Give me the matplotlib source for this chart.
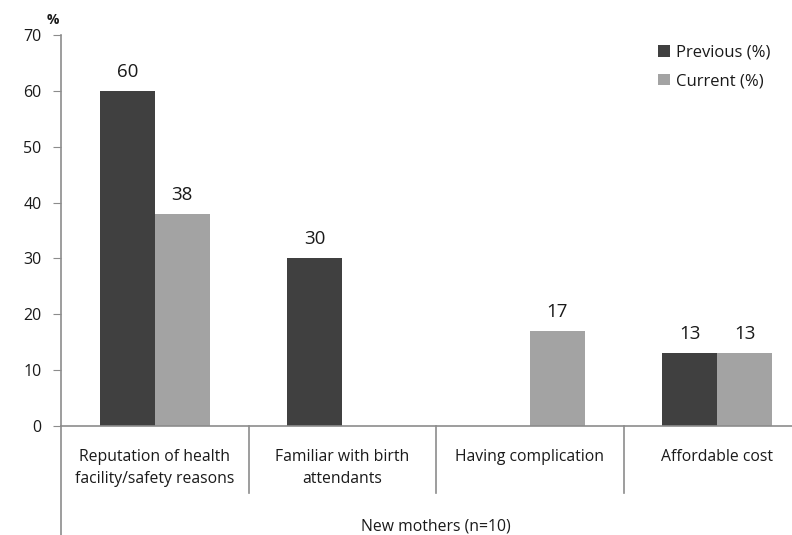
import numpy as np
import matplotlib
matplotlib.use("Agg")
import matplotlib.pyplot as plt
from matplotlib.patches import Patch
from matplotlib.lines import Line2D

plt.rcParams['font.family'] = ['Open Sans', 'DejaVu Sans']

categories = ["Reputation of health\nfacility/safety reasons",
              "Familiar with birth\nattendants",
              "Having complication",
              "Affordable cost"]
group_label = "New mothers (n=10)"
previous = [60, 30, None, 13]
current = [38, None, 17, 13]
series_names = ["Previous (%)", "Current (%)"]
y_ticks = [0, 10, 20, 30, 40, 50, 60, 70]

dark = "#404040"
light = "#a3a3a3"
axis_grey = "#8c8c8c"
text_col = "#1a1a1a"

W, H = 792, 535
fig = plt.figure(figsize=(W / 100, H / 100), dpi=100)
x0, x1 = 61, 811
y0, y1 = 426, 35
ax = fig.add_axes([x0 / W, (H - y0) / H, (x1 - x0) / W, (y0 - y1) / H])

n = len(categories)
bw = 0.294
pos = np.arange(n) + 0.5
for vals, off, col in [(previous, -bw / 2, dark), (current, bw / 2, light)]:
    for p, v in zip(pos, vals):
        if v is None:
            continue
        ax.bar(p + off, v, width=bw, color=col, zorder=2)
        ax.text(p + off, v + 2.5, f"{v}", ha="center", va="baseline",
                fontsize=13.5, color=text_col)

ax.set_xlim(0, n)
ax.set_ylim(0, 70)
ax.set_yticks(y_ticks)
ax.tick_params(axis="y", direction="out", length=6, color=axis_grey,
               labelsize=11.5, labelcolor=text_col, pad=8)
ax.set_xticks([])
for s in ["top", "right"]:
    ax.spines[s].set_visible(False)
for s in ["left", "bottom"]:
    ax.spines[s].set_color(axis_grey)
    ax.spines[s].set_linewidth(1.2)

# category labels and separators below the axis
trans = ax.get_xaxis_transform()
for i, c in enumerate(categories):
    ax.text(i + 0.5, -0.058, c, transform=trans, ha="center", va="top",
            fontsize=11.3, color=text_col, linespacing=1.5)
for i in range(1, n):
    ax.add_line(Line2D([i, i], [0, -0.172], transform=trans, color=axis_grey,
                       lw=1.2, clip_on=False))
# left axis continues down past the category rows
ax.add_line(Line2D([0, 0], [0, -0.3], transform=trans, color=axis_grey,
                   lw=1.2, clip_on=False))
ax.text(n / 2, -0.236, group_label, transform=trans, ha="center", va="top",
        fontsize=11.3, color=text_col)

ax.text(-0.011, 1.02, "%", transform=ax.transAxes, ha="center", va="bottom",
        fontsize=10, fontweight="bold", color=text_col)

handles = [Patch(facecolor=dark, label=series_names[0]),
           Patch(facecolor=light, label=series_names[1])]
leg = fig.legend(handles=handles, loc="upper left",
                 bbox_to_anchor=(643 / W, 1 - 30 / H), frameon=False,
                 fontsize=12, handlelength=0.7, handleheight=0.7,
                 handletextpad=0.4, labelspacing=0.75)
for t in leg.get_texts():
    t.set_color(text_col)

fig.savefig("out.png", dpi=100)
